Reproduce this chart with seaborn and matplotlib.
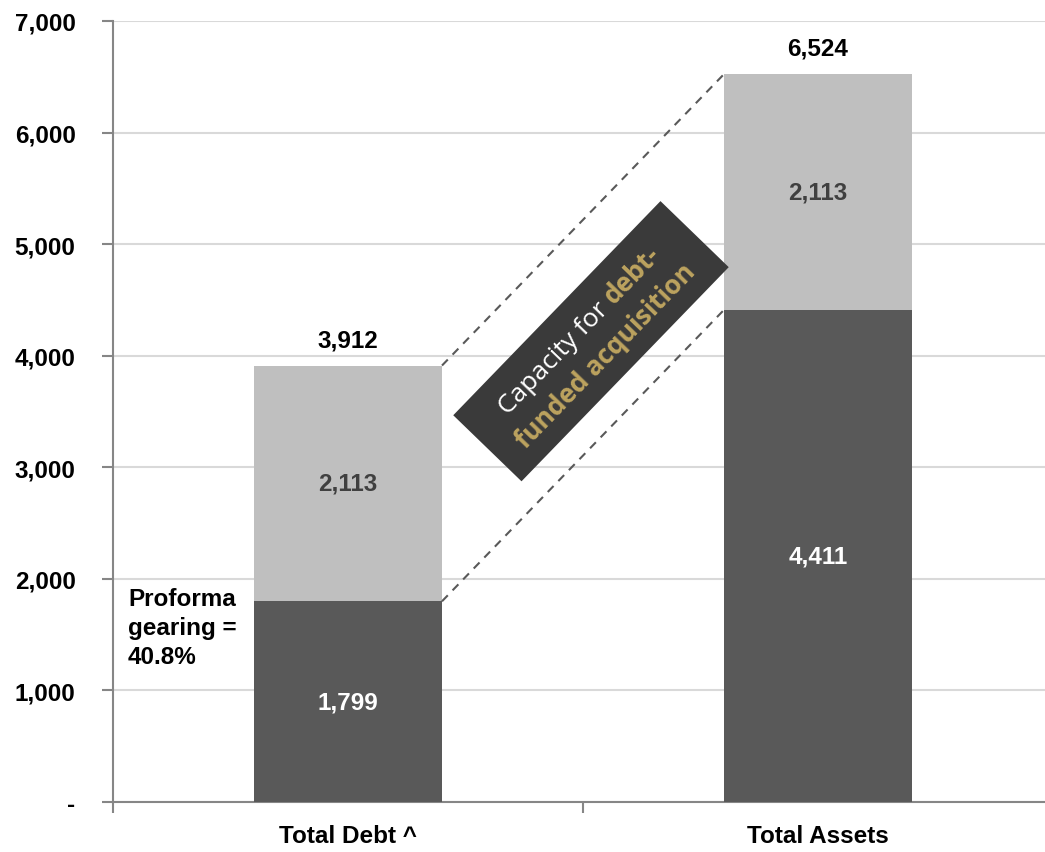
import numpy as np
import pandas as pd
import seaborn as sns
import matplotlib.pyplot as plt
import matplotlib.ticker as mticker
from matplotlib.patches import Rectangle
from matplotlib.transforms import Affine2D, IdentityTransform

# ---- data -------------------------------------------------------------
categories = ["Total Debt ^", "Total Assets"]
base_values = [1799, 4411]          # dark lower segment
capacity_values = [2113, 2113]      # light upper segment
total_values = [b + c for b, c in zip(base_values, capacity_values)]
y_ticks = [0, 1000, 2000, 3000, 4000, 5000, 6000, 7000]
gearing_note = "Proforma\ngearing =\n40.8%"

DARK = "#595959"
LIGHT = "#bfbfbf"
GOLD = "#bda35f"
BOX = "#3a3a3a"
AXIS = "#868686"
GRID = "#d9d9d9"
FS = 17.5

sns.set_theme(style="white")
plt.rcParams["font.family"] = ["Liberation Sans Narrow", "Liberation Sans", "DejaVu Sans"]

fig = plt.figure(figsize=(10.45, 8.53), dpi=100)
ax = fig.add_axes([113 / 1045, 50 / 853, 940 / 1045, 781 / 853])

df = pd.DataFrame({"category": categories, "base": base_values,
                   "capacity": capacity_values, "total": total_values})

sns.barplot(data=df, x="category", y="total", color=LIGHT, width=0.4,
            saturation=1, linewidth=0, ax=ax, zorder=2)
sns.barplot(data=df, x="category", y="base", color=DARK, width=0.4,
            saturation=1, linewidth=0, ax=ax, zorder=3)

ax.set_xlim(-0.5, 1.5)
ax.set_ylim(0, 7000)
ax.set_xlabel("")
ax.set_ylabel("")

# axes styling
ax.set_yticks(y_ticks)
ax.yaxis.set_major_formatter(mticker.FuncFormatter(
    lambda v, p: "-" if v == 0 else f"{int(v):,}"))
ax.yaxis.grid(True, color=GRID, lw=1.5, zorder=0)
ax.set_axisbelow(True)
for side in ("top", "right"):
    ax.spines[side].set_visible(False)
for side in ("left", "bottom"):
    ax.spines[side].set_color(AXIS)
    ax.spines[side].set_linewidth(1.5)
ax.tick_params(axis="y", left=True, length=8, width=1.5, color=AXIS, pad=19,
               labelsize=FS, labelcolor="black")
ax.set_xticks([-0.5, 0.5, 1.5], minor=True)
ax.tick_params(axis="x", which="minor", bottom=True, length=8, width=1.5, color=AXIS)
ax.tick_params(axis="x", which="major", bottom=False, length=0, pad=16,
               labelsize=FS, labelcolor="black")
for lbl in ax.get_xticklabels() + ax.get_yticklabels():
    lbl.set_fontweight("bold")

# value labels
half = 0.2
for i, (b, c, t) in enumerate(zip(base_values, capacity_values, total_values)):
    ax.text(i, t + 230, f"{t:,}", ha="center", va="center", fontsize=FS,
            fontweight="bold", color="black", zorder=5)
    ax.text(i, b + c / 2, f"{c:,}", ha="center", va="center", fontsize=FS,
            fontweight="bold", color="#404040", zorder=5)
    ax.text(i, b / 2, f"{b:,}", ha="center", va="center", fontsize=FS,
            fontweight="bold", color="white", zorder=5)

# connector lines between the two bars
ax.plot([0 + half, 1 - half], [total_values[0], total_values[1]], ls=(0, (4, 3.3)),
        color=DARK, lw=1.5, zorder=4)
ax.plot([0 + half, 1 - half], [base_values[0], base_values[1]], ls=(0, (4, 3.3)),
        color=DARK, lw=1.5, zorder=4)

ax.text(-0.468, 1930, gearing_note, ha="left", va="top", fontsize=FS,
        fontweight="bold", color="black", linespacing=1.35, zorder=5)

# rotated callout box
fig.canvas.draw()
renderer = fig.canvas.get_renderer()
p0 = ax.transData.transform((half, total_values[0]))
p1 = ax.transData.transform((1 - half, total_values[1]))
angle = np.degrees(np.arctan2(p1[1] - p0[1], p1[0] - p0[0]))
cx, cy = ax.transData.transform((0.517, 4130))
bw, bh = 298, 95
rect = Rectangle((-bw / 2, -bh / 2), bw, bh, facecolor=BOX, edgecolor="none",
                 transform=Affine2D().rotate_deg(angle).translate(cx, cy), zorder=6)
fig.patches.append(rect)
rect.set_figure(fig)

box_font = ["Open Sans", "DejaVu Sans"]
fs = 19
fs_px = fs * fig.dpi / 72


def text_width(s, weight):
    t = fig.text(0, 0, s, fontsize=fs, fontweight=weight, family=box_font,
                 transform=IdentityTransform())
    w = t.get_window_extent(renderer).width
    t.remove()
    return w


a = np.radians(angle)
u = np.array([np.cos(a), np.sin(a)])
v = np.array([-np.sin(a), np.cos(a)])
line_gap = 37
center = np.array([cx, cy])


def put(s, u_off, v_off, color, weight):
    pos = center + u * u_off + v * v_off
    fig.text(pos[0], pos[1], s, fontsize=fs, fontweight=weight, family=box_font,
             color=color, rotation=angle, rotation_mode="anchor",
             ha="left", va="baseline", transform=IdentityTransform(), zorder=7)


w_a = text_width("Capacity for", "normal")
w_sp = 0.27 * fs_px
w_b = text_width("debt-", "bold")
w1 = w_a + w_sp + w_b
base1 = line_gap / 2 - 0.36 * fs_px
put("Capacity for", -w1 / 2, base1, "white", "normal")
put("debt-", -w1 / 2 + w_a + w_sp, base1, GOLD, "bold")
w2 = text_width("funded acquisition", "bold")
put("funded acquisition", -w2 / 2, -line_gap / 2 - 0.36 * fs_px, GOLD, "bold")

fig.savefig("out.png", dpi=100)
